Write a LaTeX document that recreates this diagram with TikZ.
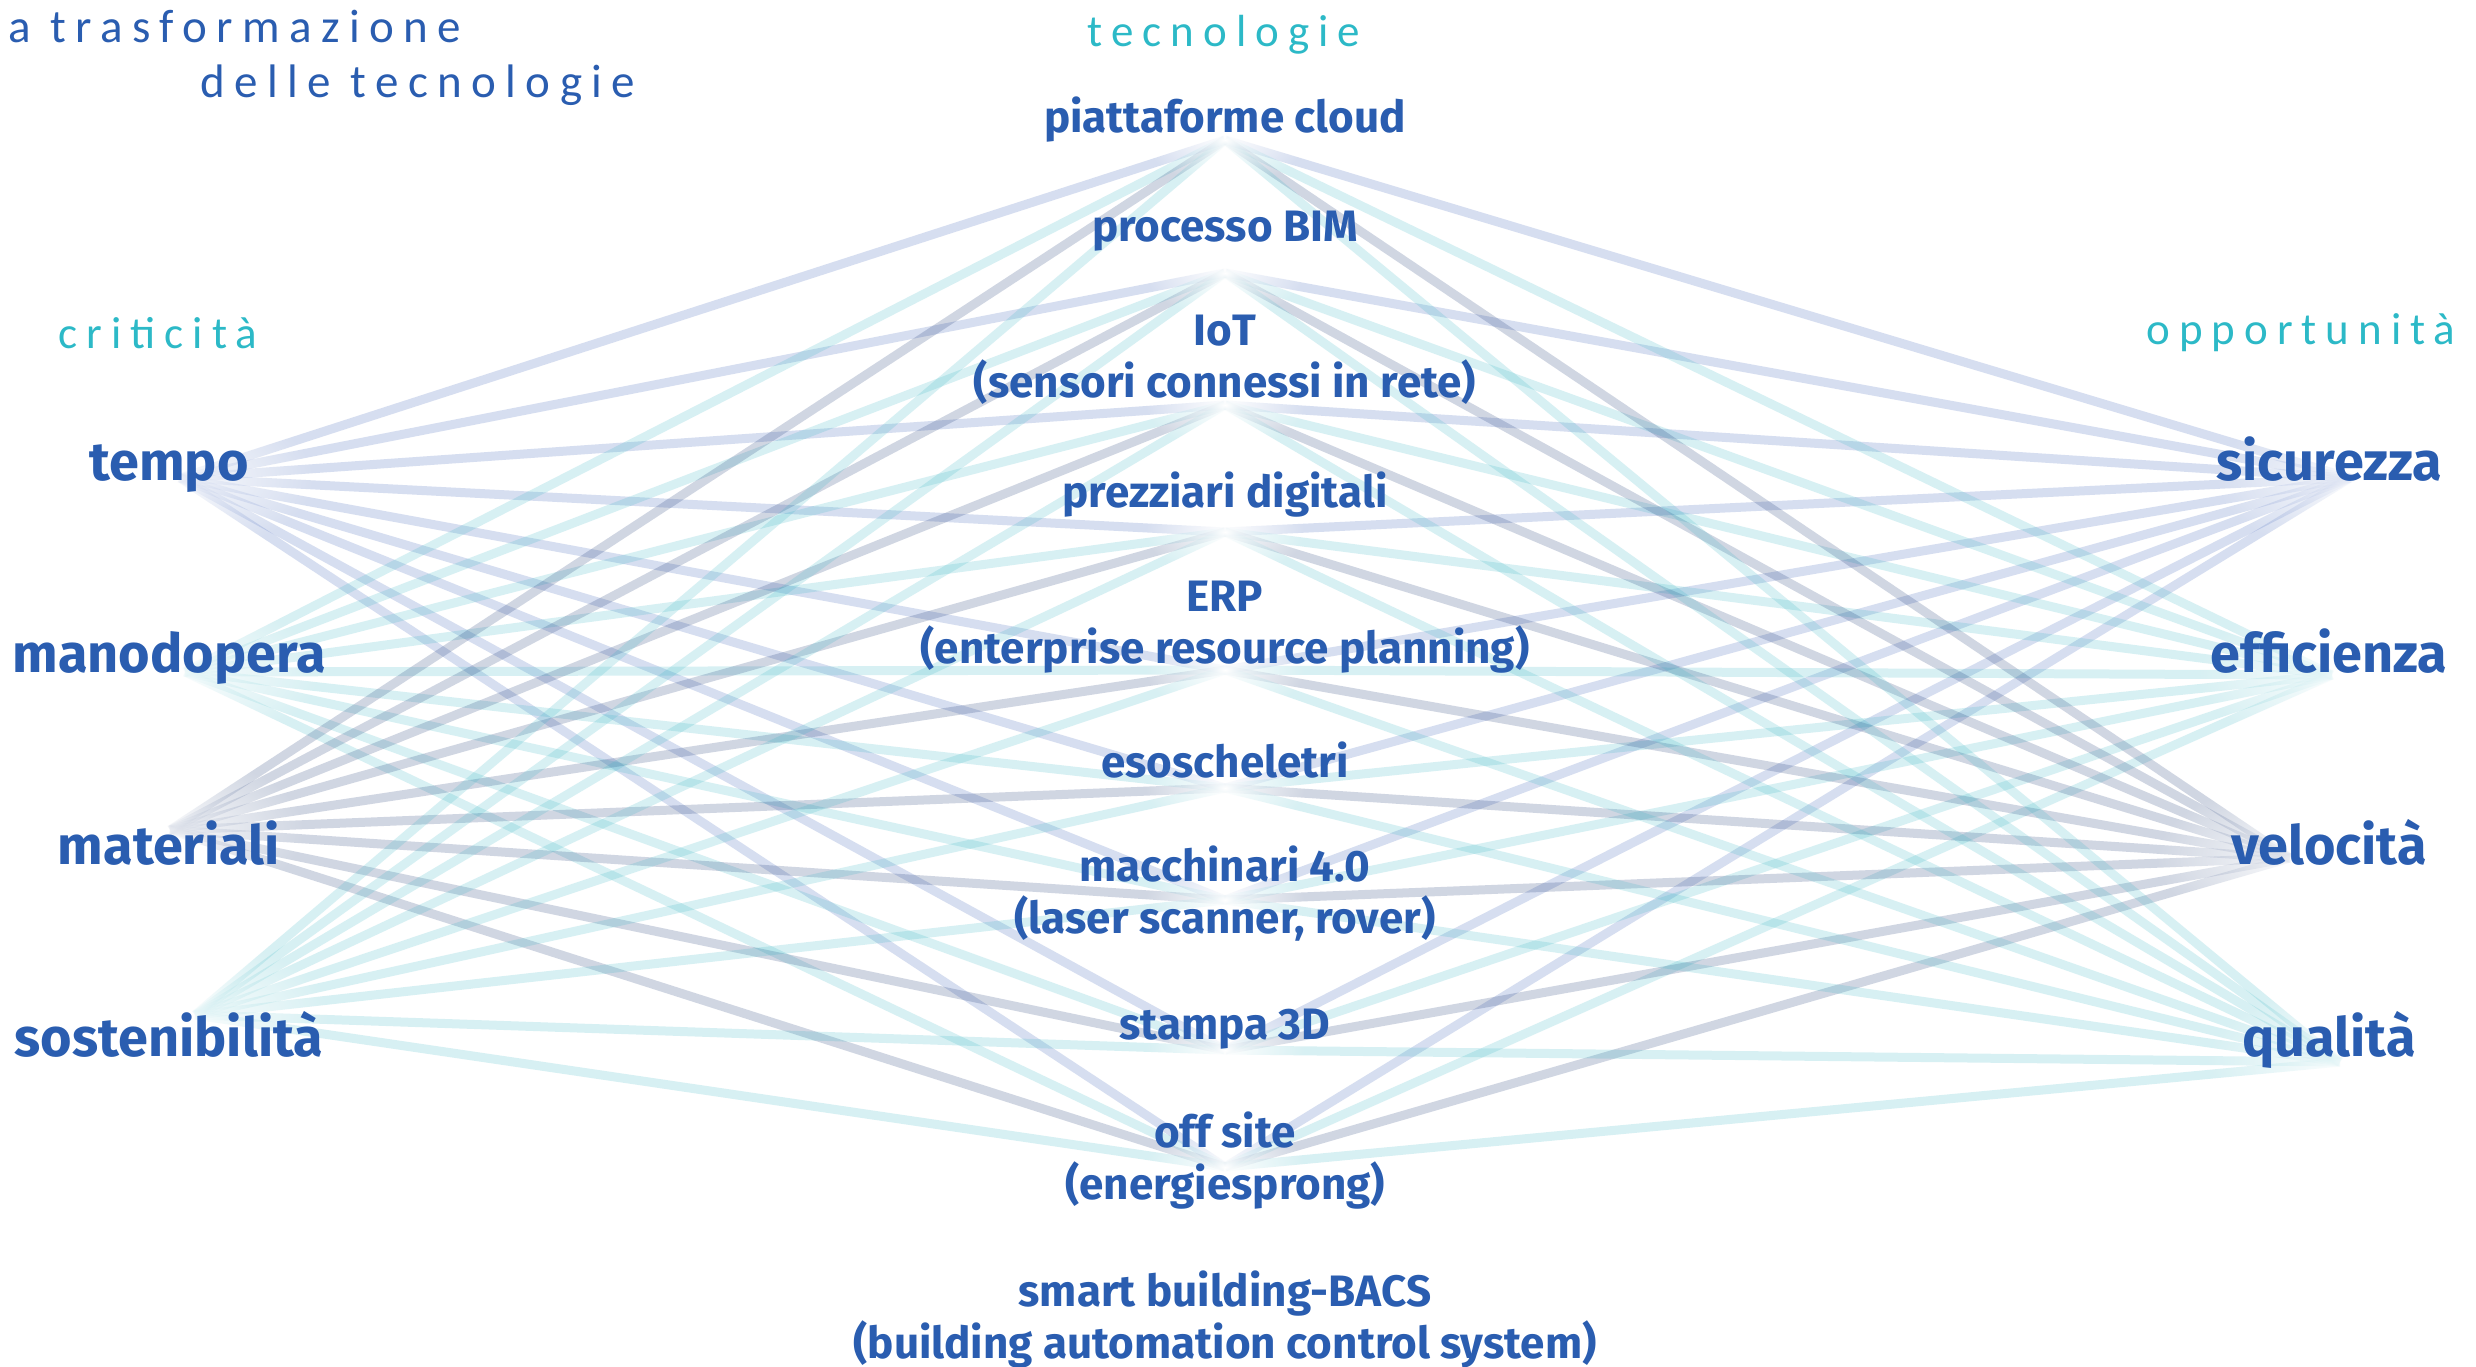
\documentclass[tikz,border=0pt]{standalone}
\usepackage{fontspec}
\setmainfont{Fira Sans}
\newfontfamily\spacedfont[LetterSpace=20]{Carlito}
\usetikzlibrary{fadings}

\definecolor{titleblue}{RGB}{42,93,176}
\definecolor{labelcyan}{RGB}{44,185,199}
\definecolor{lavline}{RGB}{40,80,180}
\definecolor{cyanline}{RGB}{45,180,195}
\definecolor{greyline}{RGB}{10,40,105}

\tikzfading[name=glow, inner color=transparent!0, outer color=transparent!100]

\tikzset{
	side/.style={font=\bfseries\fontsize{54}{60}\selectfont, text=titleblue, inner sep=0pt, anchor=base},
	tech/.style={font=\bfseries\fontsize{44}{52}\selectfont, text=titleblue, align=center, inner sep=0pt},
	group/.style={font=\spacedfont\fontsize{45}{50}\selectfont, text=labelcyan, inner sep=0pt},
	link/.style={line width=9pt, draw opacity=.19},
	halo/.style={fill=white, path fading=glow},
}

\begin{document}
\begin{tikzpicture}[x=1pt,y=-1pt]
	\useasboundingbox[fill=white] (0,0) rectangle (2476,1367);

	% fan points
	\coordinate (crit1) at (180,478);
	\coordinate (crit2) at (185,672);
	\coordinate (crit3) at (170,830);
	\coordinate (crit4) at (195,1015);
	\coordinate (opp1) at (2350,478);
	\coordinate (opp2) at (2332,675);
	\coordinate (opp3) at (2290,858);
	\coordinate (opp4) at (2340,1062);
	\foreach \y [count=\i] in {140,273,405,532,670,788,900,1050,1167}
	{
		\coordinate (tec\i) at (1225,\y);
	}

	% links
	\foreach \k/\c in {1/lavline,2/cyanline,3/greyline,4/cyanline}
	{
		\foreach \i in {1,...,9}
		{
			\draw[link, draw=\c] (crit\k) -- (tec\i);
			\draw[link, draw=\c] (opp\k) -- (tec\i);
		}
	}

	% fading at the ends
	\foreach \i in {1,...,9}
	{
		\fill[halo] (tec\i) ellipse [x radius=80pt, y radius=45pt];
	}
	\foreach \k in {1,...,4}
	{
		\fill[halo, fill opacity=.9] (crit\k) ellipse [x radius=135pt, y radius=75pt];
		\fill[halo, fill opacity=.9] (opp\k) ellipse [x radius=135pt, y radius=75pt];
	}

	% titles
	\node[group, text=titleblue, font=\spacedfont\fontsize{47}{50}\selectfont, anchor=west] (titolo1) at (8,27) {a trasformazione};
	\node[group, text=titleblue, font=\spacedfont\fontsize{47}{50}\selectfont, anchor=west] (titolo2) at (200,85) {delle tecnologie};
	\node[group] (tecnologie) at (1224,35) {tecnologie};
	\node[group] (criticita) at (158,333) {criticità};
	\node[group] (opportunita) at (2301,333) {opportunità};

	% criticita
	\node[side] (tempo) at (169,480) {tempo};
	\node[side] (manodopera) at (169,672) {manodopera};
	\node[side] (materiali) at (169,864) {materiali};
	\node[side] (sostenibilita) at (169,1056) {sostenibilità};

	% opportunita
	\node[side] (sicurezza) at (2329,480) {sicurezza};
	\node[side] (efficienza) at (2329,672) {efficienza};
	\node[side] (velocita) at (2329,864) {velocità};
	\node[side] (qualita) at (2329,1056) {qualità};

	% tecnologie
	\node[tech] (cloud) at (1225,120) {piattaforme cloud};
	\node[tech] (bim) at (1225,231) {processo BIM};
	\node[tech] (iot) at (1225,360) {IoT\\(sensori connessi in rete)};
	\node[tech] (prezziari) at (1225,495) {prezziari digitali};
	\node[tech] (erp) at (1225,627) {ERP\\(enterprise resource planning)};
	\node[tech] (eso) at (1225,760) {esoscheletri};
	\node[tech] (macchinari) at (1225,894) {macchinari 4.0\\(laser scanner, rover)};
	\node[tech] (stampa) at (1225,1029) {stampa 3D};
	\node[tech] (offsite) at (1225,1161) {off site\\(energiesprong)};
	\node[tech] (bacs) at (1225,1320) {smart building-BACS\\(building automation control system)};
\end{tikzpicture}
\end{document}
